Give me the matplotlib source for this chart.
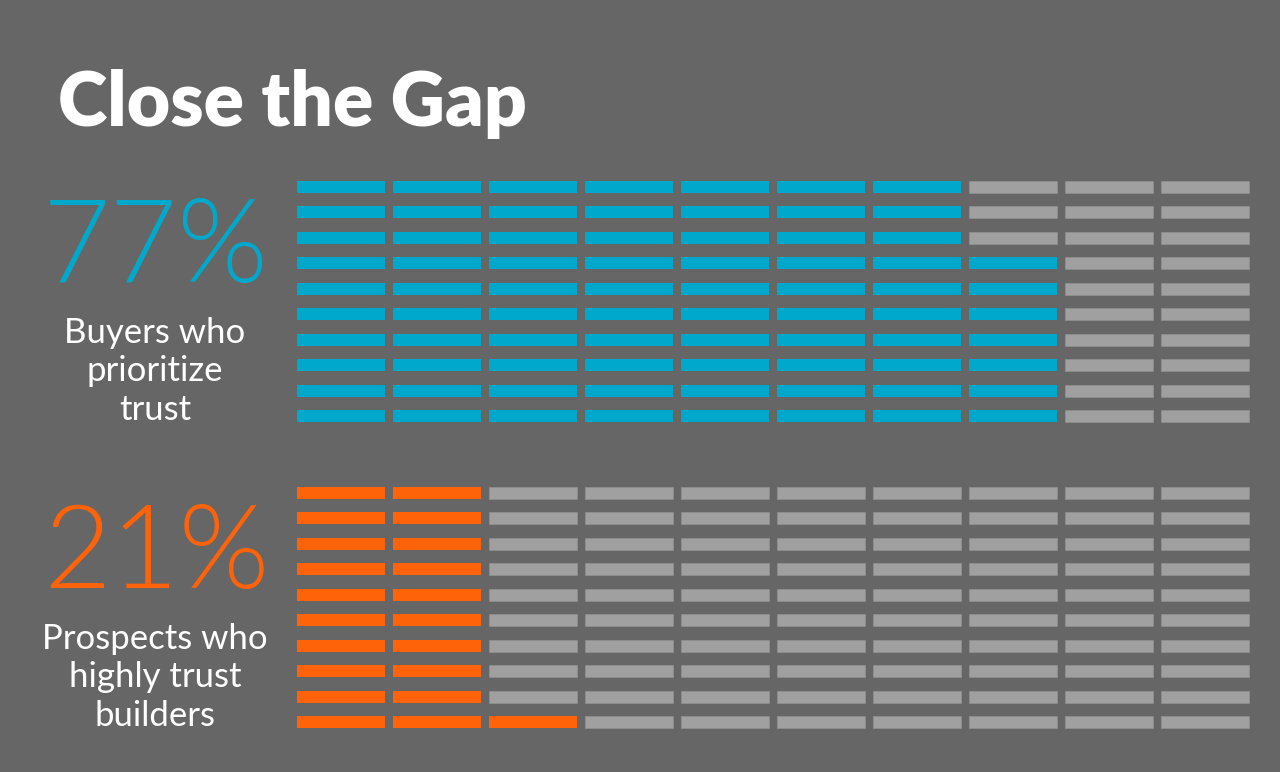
import matplotlib.pyplot as plt

# data
values = [77, 21]
big_labels = ['77%', '21%']
captions = ['Buyers who\nprioritize\ntrust', 'Prospects who\nhighly trust\nbuilders']
colors = ['#00A9CC', '#FF6309']
title = 'Close the Gap'

BG = '#666666'
GREY = '#A0A0A0'
W, H = 1280, 772

fig = plt.figure(figsize=(W / 100, H / 100), dpi=100, facecolor=BG)

# grid area for each panel, pixel coords (top, bottom)
panels = [(174.3, 428.7), (480.3, 734.7)]
grid_left, grid_w = 297, 960

for val, big, cap, col, (top, bot) in zip(values, big_labels, captions, colors, panels):
    ax = fig.add_axes([grid_left / W, 1 - bot / H, grid_w / W, (bot - top) / H])
    ax.set_facecolor(BG)
    ax.set_xlim(0, 10)
    ax.set_ylim(9.5, -0.5)
    ax.axis('off')
    for c in range(10):
        for r in range(10):
            k = c * 10 + (9 - r)
            filled = k < val
            ax.barh(r, 0.917, left=c, height=0.47, align='center',
                    color=col if filled else GREY,
                    edgecolor='none' if filled else '#8E8E8E', linewidth=0.6)
    # big number and caption
    fig.text(156 / W, 1 - (top + 76) / H, big, color=col, fontsize=84,
             family='Lato', fontweight=300, ha='center', va='center')
    fig.text(155 / W, 1 - (top + 197) / H, cap, color='white', fontsize=25,
             family='Lato', ha='center', va='center', linespacing=1.25)

fig.text(58 / W, 1 - 104 / H, title, color='white', fontsize=54,
         family='Lato', fontweight='heavy', ha='left', va='center')

fig.savefig('out.png', dpi=100, facecolor=BG)
